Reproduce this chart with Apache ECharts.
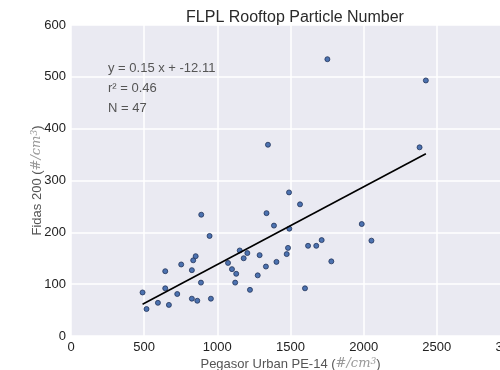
<!DOCTYPE html>
<html>
<head>
<meta charset="utf-8">
<script src="https://cdn.jsdelivr.net/npm/echarts@6/dist/echarts.min.js"></script>
<style>
  html, body { margin: 0; padding: 0; background: #fff; }
  #chart { width: 500px; height: 370px; }
</style>
</head>
<body>
<div id="chart"></div>
<script>
// Pegasor (x) vs Fidas (y)
const pegasor = [489, 516, 594, 644, 644, 669, 726, 753, 826, 826, 835, 852, 863, 888, 890, 947, 956,
  1073, 1100, 1122, 1129, 1153, 1180, 1205, 1223, 1276, 1289, 1332, 1336, 1346, 1387, 1404,
  1474, 1483, 1490, 1492, 1565, 1599, 1620, 1676, 1713, 1752, 1779, 1987, 2053, 2382, 2425];
const fidas = [84, 52, 64, 125, 92, 60, 81, 138, 127, 72, 146, 154, 68, 103, 234, 193, 72,
  141, 129, 103, 120, 165, 150, 160, 89, 117, 156, 134, 237, 369, 213, 143,
  158, 170, 277, 207, 254, 92, 174, 174, 185, 534, 144, 216, 184, 364, 493];

// fitted line endpoints (y = 0.15 x + -12.11 over the x range)
const fitX = [489, 2425];
const fitY = [61.2, 351.6];

const xTicks = [0, 500, 1000, 1500, 2000, 2500, 3000];
const yTicks = [0, 100, 200, 300, 400, 500, 600];

const statLines = ['y = 0.15 x + -12.11', 'r² = 0.46', 'N = 47'];

const font = 'Liberation Sans, Arial, sans-serif';
const chart = echarts.init(document.getElementById('chart'));

const unitRich = {
  a: { fontSize: 13, color: '#555', fontFamily: font },
  b: { fontSize: 13, color: '#999', fontStyle: 'italic', fontFamily: 'DejaVu Serif' },
  c: { fontSize: 9, color: '#999', fontStyle: 'italic', verticalAlign: 'top', padding: [0, 0, 5, 0], fontFamily: 'DejaVu Serif' }
};

chart.setOption({
  animation: false,
  textStyle: { fontFamily: font },
  title: {
    text: 'FLPL Rooftop Particle Number',
    left: 290, top: 5, textAlign: 'center',
    textStyle: { fontSize: 16, fontWeight: 'normal', color: '#2a2a2a', fontFamily: font }
  },
  grid: {
    left: 71, top: 25, right: -10, bottom: 34,
    outerBoundsMode: 'none', containLabel: false,
    show: true, backgroundColor: '#EAEAF2', borderWidth: 0
  },
  xAxis: {
    type: 'value', min: xTicks[0], max: xTicks[xTicks.length - 1], interval: 500,
    axisLine: { show: false }, axisTick: { show: false },
    splitLine: { lineStyle: { color: '#fff', width: 1.5 } },
    axisLabel: { color: '#222', fontSize: 13, margin: 5, formatter: v => String(v) },
    name: '{a|Pegasor Urban PE-14 (}{b|#/cm}{c|3}{a|)}',
    nameLocation: 'middle', nameGap: 21, nameMoveOverlap: false,
    nameTextStyle: { rich: unitRich }
  },
  yAxis: {
    type: 'value', min: yTicks[0], max: yTicks[yTicks.length - 1], interval: 100,
    axisLine: { show: false }, axisTick: { show: false },
    splitLine: { lineStyle: { color: '#fff', width: 1.5 } },
    axisLabel: { color: '#222', fontSize: 13, margin: 5, formatter: v => String(v) },
    name: '{a|Fidas 200 (}{b|#/cm}{c|3}{a|)}',
    nameLocation: 'middle', nameGap: 27, nameMoveOverlap: false,
    nameTextStyle: { rich: unitRich }
  },
  graphic: statLines.map((t, i) => ({
    type: 'text', left: 108, top: 62 + i * 20, z: 100,
    style: { text: t, fill: '#555', font: '13px ' + font }
  })),
  series: [
    {
      type: 'scatter',
      data: pegasor.map((x, i) => [x, fidas[i]]),
      symbolSize: 5,
      itemStyle: { color: '#4C72B0', borderColor: '#22335a', borderWidth: 0.8, opacity: 1 },
      z: 3
    },
    {
      type: 'line',
      data: fitX.map((x, i) => [x, fitY[i]]),
      symbol: 'none',
      lineStyle: { color: '#000', width: 1.6 },
      z: 4
    }
  ]
});
</script>
</body>
</html>
